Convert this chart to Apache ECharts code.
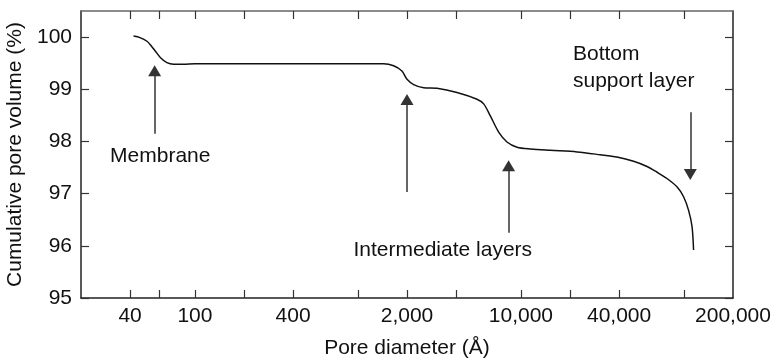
<!DOCTYPE html>
<html>
<head>
<meta charset="utf-8">
<script src="https://cdn.jsdelivr.net/npm/echarts@6/dist/echarts.min.js"></script>
<style>
  html, body { margin: 0; padding: 0; background: #fff; }
  #main { width: 773px; height: 358px; }
</style>
</head>
<body>
<div id="main"></div>
<script>
// pore diameter (Å) and cumulative pore volume (%)
var poreDiameter = [42, 46, 50.8, 54, 57.2, 61.3, 67.3, 74, 85, 100, 200, 400, 1000, 1437,
  1656, 1862, 2000, 2197, 2531, 3055, 4053, 5375, 5908, 6490, 7300, 8210, 9460,
  11500, 15140, 22100, 30700, 38800, 49100, 59350, 68400, 78700, 90600, 99500, 106800, 112100, 114600];
var poreVolume = [100.02, 99.99, 99.92, 99.83, 99.73, 99.61, 99.51, 99.48, 99.48, 99.49, 99.49, 99.49, 99.49, 99.49,
  99.45, 99.35, 99.19, 99.09, 99.03, 99.02, 98.94, 98.81, 98.72, 98.49, 98.18, 97.99, 97.89,
  97.855, 97.83, 97.80, 97.745, 97.70, 97.62, 97.52, 97.41, 97.29, 97.13, 96.94, 96.68, 96.37, 95.92];

var xTickValues = [40, 60, 100, 200, 400, 1000, 2000, 4000, 10000, 20000, 40000, 100000];
var xLabelValues = [40, 100, 400, 2000, 10000, 40000, 200000];
var yTickValues = [95, 96, 97, 98, 99, 100];

// annotation arrows: [x, yFrom, yTo]
var arrows = [
  [56.6, 98.15, 99.355],
  [2000, 97.03, 98.805],
  [8400, 96.25, 97.535],
  [109400, 98.56, 97.365]
];
// annotation texts: [x, y, text, side]
var notes = [
  [61.3, 97.71, 'Membrane', 'inside'],
  [3316, 95.92, 'Intermediate layers', 'inside'],
  [20860, 99.42, 'Bottom\nsupport layer', 'right']
];

var FONT = '"Liberation Sans", Arial, Helvetica, sans-serif';
var FS = 21;
var chart = echarts.init(document.getElementById('main'));

var points = poreDiameter.map(function (d, i) { return [d, poreVolume[i]]; });

var option = {
  animation: false,
  textStyle: { fontFamily: FONT },
  grid: { left: 81, right: 40, top: 11, bottom: 60, outerBoundsMode: 'none' },
  xAxis: [
    {
      type: 'log',
      min: 20,
      max: 200000,
      position: 'bottom',
      name: 'Pore diameter (Å)',
      nameLocation: 'middle',
      nameGap: 40,
      nameTextStyle: { fontSize: FS, color: '#111', fontFamily: FONT },
      axisLine: { lineStyle: { color: '#222', width: 1.5 } },
      axisTick: { inside: true, length: 8, customValues: xTickValues, lineStyle: { color: '#333', width: 1.2 } },
      axisLabel: {
        customValues: xLabelValues,
        fontSize: FS, color: '#111', margin: 8, fontFamily: FONT,
        formatter: function (v) { return Math.round(v).toLocaleString('en-US'); }
      },
      splitLine: { show: false },
      minorTick: { show: false }
    },
    {
      type: 'log',
      min: 20,
      max: 200000,
      position: 'top',
      axisLine: { lineStyle: { color: '#666', width: 1.5 } },
      axisTick: { inside: true, length: 8, customValues: xTickValues, lineStyle: { color: '#333', width: 1.2 } },
      axisLabel: { show: false },
      splitLine: { show: false }
    }
  ],
  yAxis: [
    {
      type: 'value',
      min: 95,
      max: 100.5,
      position: 'left',
      name: 'Cumulative pore volume (%)',
      nameLocation: 'middle',
      nameGap: 52,
      nameTextStyle: { fontSize: FS, color: '#111', fontFamily: FONT },
      axisLine: { show: true, lineStyle: { color: '#222', width: 1.5 } },
      axisTick: { show: true, inside: true, length: 8, customValues: yTickValues, lineStyle: { color: '#333', width: 1.2 } },
      axisLabel: { customValues: yTickValues, fontSize: FS, color: '#111', margin: 9, fontFamily: FONT },
      splitLine: { show: false }
    },
    {
      type: 'value',
      min: 95,
      max: 100.5,
      position: 'right',
      axisLine: { show: true, lineStyle: { color: '#222', width: 1.5 } },
      axisTick: { show: true, inside: true, length: 8, customValues: yTickValues, lineStyle: { color: '#333', width: 1.2 } },
      axisLabel: { show: false },
      splitLine: { show: false }
    }
  ],
  series: [
    {
      type: 'line',
      data: points,
      smooth: 0.3,
      showSymbol: false,
      symbol: 'none',
      lineStyle: { color: '#111', width: 1.5 },
      markLine: {
        silent: true,
        symbol: ['none', 'triangle'],
        symbolSize: [13, 11],
        lineStyle: { color: '#333', width: 1.5, type: 'solid' },
        itemStyle: { color: '#111' },
        label: { show: false },
        data: arrows.map(function (a) {
          return [{ coord: [a[0], a[1]] }, { coord: [a[0], a[2]] }];
        })
      },
      markPoint: {
        silent: true,
        symbol: 'rect',
        symbolSize: 0,
        data: notes.map(function (n) {
          return {
            coord: [n[0], n[1]],
            label: {
              show: true,
              position: n[3],
              distance: 0,
              formatter: n[2],
              fontSize: FS,
              lineHeight: 27,
              color: '#111',
              fontFamily: FONT,
              align: n[3] === 'right' ? 'left' : 'center'
            }
          };
        })
      }
    }
  ]
};

chart.setOption(option);
</script>
</body>
</html>
